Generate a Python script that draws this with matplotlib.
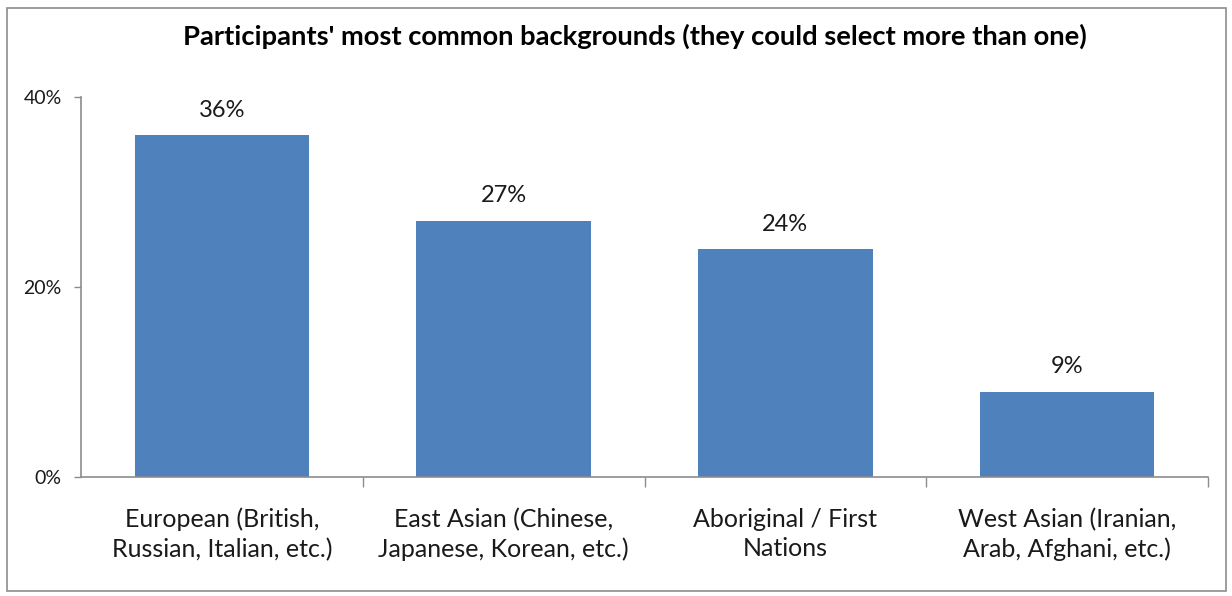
import matplotlib
matplotlib.use("Agg")
import matplotlib.pyplot as plt
from matplotlib.patches import Rectangle
from matplotlib.ticker import FixedLocator, PercentFormatter

categories = [
    "European (British,\nRussian, Italian, etc.)",
    "East Asian (Chinese,\nJapanese, Korean, etc.)",
    "Aboriginal / First\nNations",
    "West Asian (Iranian,\nArab, Afghani, etc.)",
]
shares = [36, 27, 24, 9]
y_ticks = [0, 20, 40]
title = "Participants' most common backgrounds (they could select more than one)"

plt.rcParams["font.family"] = ["Lato", "DejaVu Sans"]

fig = plt.figure(figsize=(12.32, 5.96), dpi=100)
fig.patch.set_facecolor("white")
fig.add_artist(Rectangle((7 / 1232, 5 / 596), 1219 / 1232, 583 / 596,
                         transform=fig.transFigure, fill=False,
                         edgecolor="#8c8c8c", linewidth=1.2))

ax = fig.add_axes([81 / 1232, 1 - 477 / 596, 1127 / 1232, 380 / 596])
x = list(range(len(categories)))
bars = ax.bar(x, shares, width=0.62, color="#4F81BD", zorder=2)

for xi, v in zip(x, shares):
    ax.text(xi, v + 2.6, f"{v}%", ha="center", va="center",
            fontsize=17, color="#1a1a1a")

ax.set_xlim(-0.5, len(categories) - 0.5)
ax.set_ylim(0, 40)
ax.yaxis.set_major_locator(FixedLocator(y_ticks))
ax.yaxis.set_major_formatter(PercentFormatter(decimals=0))
ax.tick_params(axis="y", length=5, width=1, color="#8c8c8c",
               labelsize=14, labelcolor="#1a1a1a", pad=9)

ax.set_xticks(x)
ax.set_xticklabels(categories, fontsize=18, color="#1a1a1a", linespacing=1.33)
ax.tick_params(axis="x", length=0, pad=22)
ax.set_xticks([i + 0.5 for i in range(len(categories))], minor=True)
ax.tick_params(axis="x", which="minor", length=7, width=1, color="#8c8c8c")

for side in ("top", "right"):
    ax.spines[side].set_visible(False)
for side in ("left", "bottom"):
    ax.spines[side].set_color("#8c8c8c")
    ax.spines[side].set_linewidth(1.2)

fig.text(0.515, 1 - 36 / 596, title, ha="center", va="center",
         fontsize=19.7, fontweight="bold", color="#000000")

fig.savefig("out.png", dpi=100)
